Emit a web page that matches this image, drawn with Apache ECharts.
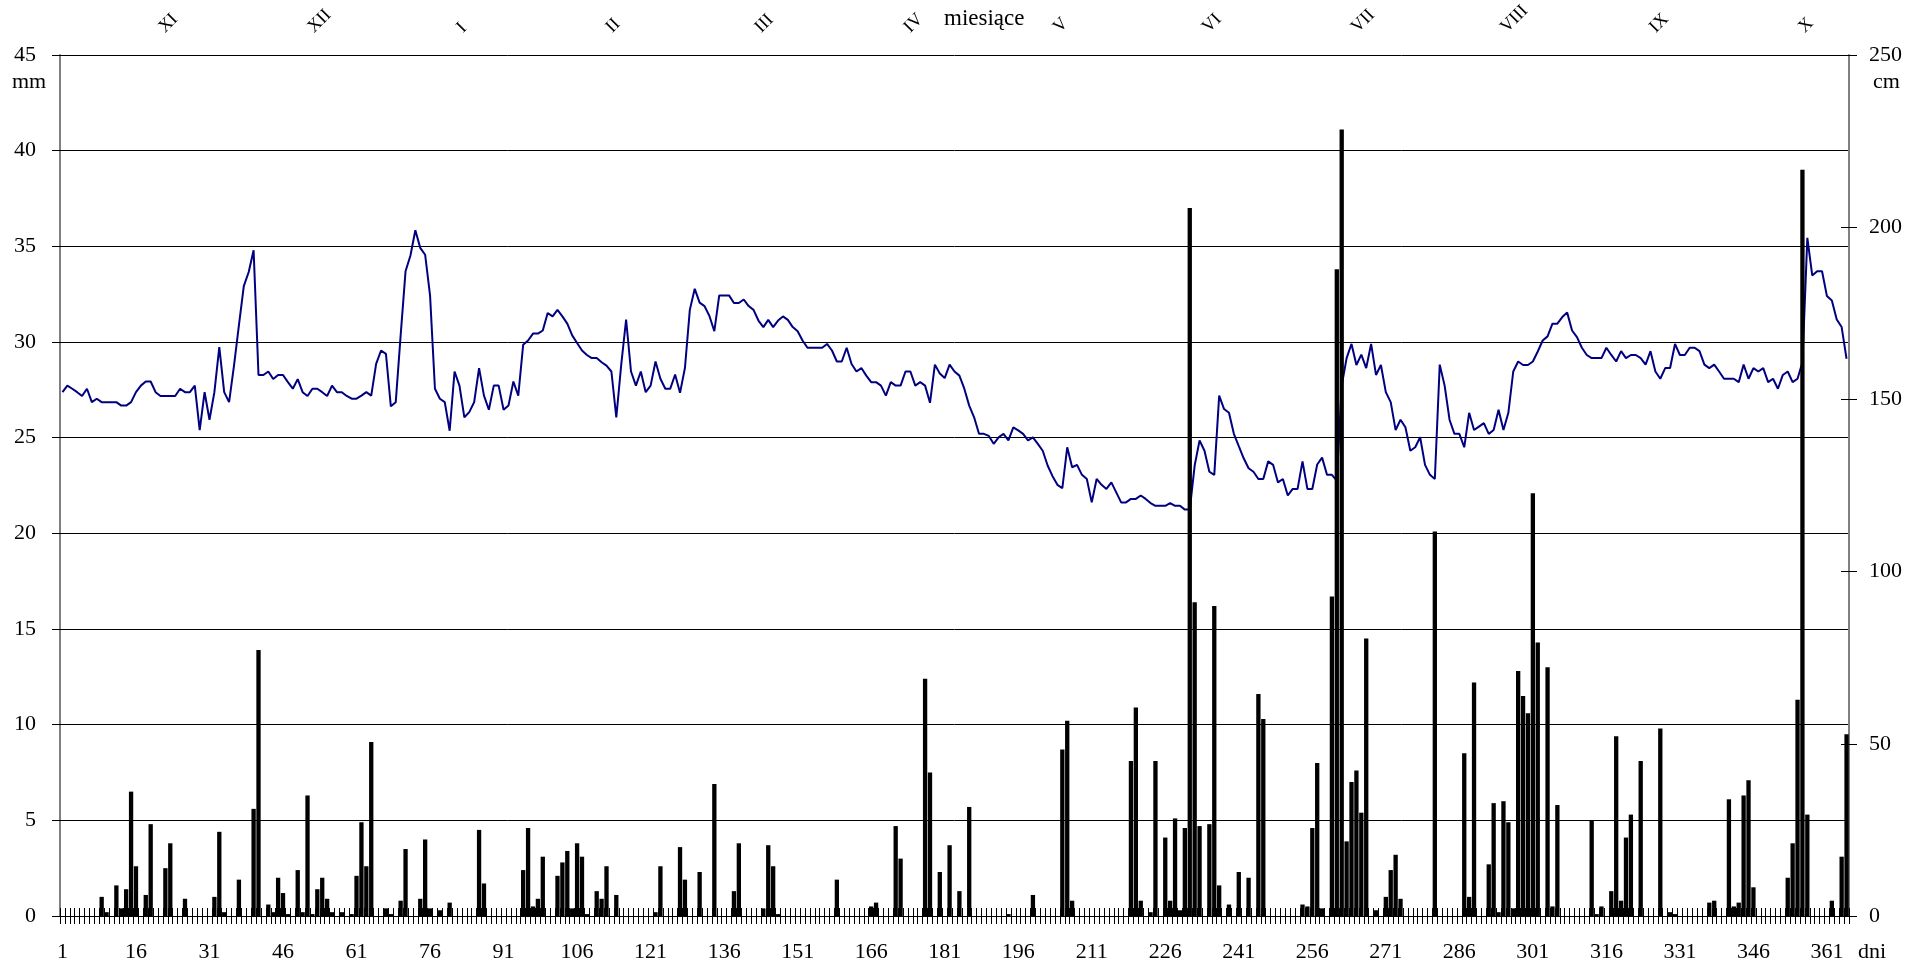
<!DOCTYPE html>
<html>
<head>
<meta charset="utf-8">
<script src="https://cdn.jsdelivr.net/npm/echarts@6/dist/echarts.min.js"></script>
<style>
  html, body { margin: 0; padding: 0; background: #ffffff; }
  #chart { width: 1917px; height: 969px; }
</style>
</head>
<body>
<div id="chart"></div>
<script>
// Months of the hydrological year (November .. October)
const months = ['XI', 'XII', 'I', 'II', 'III', 'IV', 'V', 'VI', 'VII', 'VIII', 'IX', 'X'];

const dayCount = 365;

// Days with precipitation and the daily total in mm (all other days: 0)
const rainDays = [
  9, 10, 12, 13, 14, 15, 16, 18, 19, 22, 23, 26, 32, 33, 34, 37, 40, 41, 43, 44,
  45, 46, 47, 49, 50, 51, 52, 53, 54, 55, 56, 58, 60, 61, 62, 63, 64, 67, 68, 70,
  71, 74, 75, 76, 78, 80, 86, 87, 95, 96, 97, 98, 99, 102, 103, 104, 105, 106, 107, 108,
  110, 111, 112, 114, 122, 123, 127, 128, 131, 134, 138, 139, 144, 145, 146, 147, 159, 166, 167, 171,
  172, 177, 178, 180, 182, 184, 186, 194, 199, 205, 206, 207, 219, 220, 221, 223, 224, 226, 227, 228,
  229, 230, 231, 232, 233, 235, 236, 237, 239, 241, 243, 245, 246, 254, 255, 256, 257, 258, 260, 261,
  262, 263, 264, 265, 266, 267, 269, 271, 272, 273, 274, 281, 287, 288, 289, 292, 293, 294, 295, 296,
  297, 298, 299, 300, 301, 302, 304, 305, 306, 313, 314, 315, 317, 318, 319, 320, 321, 323, 327, 329,
  330, 337, 338, 341, 342, 343, 344, 345, 346, 353, 354, 355, 356, 357, 362, 364, 365
];
const rainMm = [
  1.0, 0.2, 1.6, 0.4, 1.4, 6.5, 2.6, 1.1, 4.8, 2.5, 3.8, 0.9, 1.0, 4.4, 0.2, 1.9, 5.6, 13.9, 0.6, 0.2,
  2.0, 1.2, 0.1, 2.4, 0.2, 6.3, 0.1, 1.4, 2.0, 0.9, 0.2, 0.2, 0.1, 2.1, 4.9, 2.6, 9.1, 0.4, 0.1, 0.8,
  3.5, 0.9, 4.0, 0.4, 0.3, 0.7, 4.5, 1.7, 2.4, 4.6, 0.5, 0.9, 3.1, 2.1, 2.8, 3.4, 0.4, 3.8, 3.1, 0.1,
  1.3, 0.9, 2.6, 1.1, 0.2, 2.6, 3.6, 1.9, 2.3, 6.9, 1.3, 3.8, 0.4, 3.7, 2.6, 0.1, 1.9, 0.5, 0.7, 4.7,
  3.0, 12.4, 7.5, 2.3, 3.7, 1.3, 5.7, 0.1, 1.1, 8.7, 10.2, 0.8, 8.1, 10.9, 0.8, 0.2, 8.1, 4.1, 0.8, 5.1,
  0.3, 4.6, 37.0, 16.4, 4.7, 4.8, 16.2, 1.6, 0.6, 2.3, 2.0, 11.6, 10.3, 0.6, 0.5, 4.6, 8.0, 0.4, 16.7, 33.8,
  41.1, 3.9, 7.0, 7.6, 5.4, 14.5, 0.3, 1.0, 2.4, 3.2, 0.9, 20.1, 8.5, 1.0, 12.2, 2.7, 5.9, 0.2, 6.0, 4.9,
  0.4, 12.8, 11.5, 10.6, 22.1, 14.3, 13.0, 0.5, 5.8, 5.0, 0.1, 0.5, 1.3, 9.4, 0.8, 4.1, 5.3, 8.1, 9.8, 0.2,
  0.1, 0.7, 0.8, 6.1, 0.5, 0.7, 6.3, 7.1, 1.5, 2.0, 3.8, 11.3, 39.0, 5.3, 0.8, 3.1, 9.5
];

// Daily water level in cm (right axis), days 1..365
const waterLevelCm = [
  152.1, 154.0, 153.1, 152.1, 151.0, 153.1, 149.2, 150.2, 149.2, 149.2, 149.2, 149.2, 148.2, 148.2, 149.2,
  152.1, 154.0, 155.2, 155.2, 152.1, 151.0, 151.0, 151.0, 151.0, 153.1, 152.1, 152.1, 154.0, 141.1, 152.1,
  144.1, 152.1, 165.2, 152.1, 149.2, 159.8, 171.5, 182.9, 187.0, 193.3, 157.1, 157.1, 158.1, 155.9, 157.1,
  157.1, 155.0, 153.1, 155.9, 152.1, 151.0, 153.1, 153.1, 152.1, 151.0, 154.0, 152.1, 152.1, 151.0, 150.2,
  150.2, 151.1, 152.1, 151.1, 160.3, 164.2, 163.2, 148.0, 149.2, 168.6, 187.2, 191.8, 199.1, 194.0, 192.0,
  180.2, 153.1, 150.2, 149.2, 140.9, 158.1, 154.0, 144.8, 146.3, 149.2, 159.1, 151.1, 147.0, 154.0, 154.0,
  147.0, 148.2, 155.2, 151.1, 165.9, 167.1, 169.1, 169.1, 170.0, 175.1, 174.1, 176.0, 174.1, 172.0, 168.6,
  166.4, 164.2, 162.9, 162.0, 162.0, 160.8, 159.8, 158.1, 144.8, 160.0, 173.2, 158.1, 154.0, 158.1, 152.1,
  154.0, 161.0, 156.0, 153.1, 153.1, 157.2, 151.9, 159.1, 176.0, 182.1, 178.1, 177.1, 174.2, 169.8, 180.2,
  180.2, 180.2, 178.0, 178.0, 179.0, 177.1, 176.0, 172.9, 171.0, 173.1, 171.0, 172.9, 174.1, 173.1, 171.0,
  169.8, 167.1, 165.0, 165.0, 165.0, 165.0, 166.1, 164.2, 161.0, 161.0, 165.0, 160.3, 158.1, 159.1, 156.9,
  155.0, 155.0, 154.0, 151.1, 155.0, 154.0, 154.0, 158.1, 158.1, 154.0, 155.0, 154.0, 149.0, 160.1, 157.5,
  156.2, 160.1, 158.1, 156.9, 153.1, 148.2, 144.8, 140.0, 140.0, 139.4, 137.1, 139.0, 140.0, 138.1, 141.9,
  141.0, 140.0, 138.1, 139.0, 137.1, 135.1, 130.8, 127.7, 125.2, 124.2, 136.1, 130.3, 131.0, 128.1, 126.9,
  120.1, 126.9, 125.2, 124.0, 125.9, 123.0, 120.1, 120.1, 121.1, 121.1, 122.1, 121.1, 119.9, 119.1, 119.1,
  119.1, 119.9, 119.1, 119.1, 118.0, 118.0, 130.8, 138.1, 135.1, 129.0, 128.1, 151.1, 147.2, 146.1, 140.0,
  136.4, 132.9, 130.0, 129.0, 126.9, 126.9, 132.0, 131.0, 125.9, 126.9, 122.1, 124.0, 124.0, 132.0, 124.0,
  124.0, 131.1, 133.1, 128.1, 128.1, 126.4, 154.0, 162.0, 166.1, 160.0, 163.0, 159.1, 166.1, 157.1, 160.0,
  152.1, 149.2, 141.1, 144.1, 141.9, 135.1, 136.1, 139.0, 131.0, 128.1, 126.9, 160.1, 154.0, 144.1, 140.0,
  140.0, 136.1, 146.1, 141.1, 142.1, 143.1, 140.0, 141.1, 147.0, 141.1, 146.1, 158.1, 161.0, 160.0, 160.0,
  161.0, 163.9, 167.1, 168.3, 172.0, 172.0, 173.9, 175.2, 170.0, 168.1, 165.0, 162.9, 162.0, 162.0, 162.0,
  165.0, 162.9, 161.0, 164.0, 162.0, 162.9, 162.9, 162.0, 160.1, 164.0, 158.1, 156.0, 159.1, 159.1, 166.1,
  162.9, 162.9, 165.0, 165.0, 164.0, 160.1, 159.1, 160.1, 158.1, 156.0, 156.0, 156.0, 155.0, 160.1, 156.0,
  159.1, 158.1, 159.1, 155.0, 156.0, 153.1, 157.1, 158.1, 155.0, 156.0, 160.8, 196.9, 186.0, 187.2, 187.2,
  180.0, 178.7, 173.2, 171.0, 161.8
];

// Axis ranges
const mmMax = 45, mmStep = 5;
const cmMax = 250, cmStep = 50;

// Day numbers used as category labels
const days = Array.from({ length: dayCount }, (_, i) => String(i + 1));
const precip = new Array(dayCount).fill(0);
rainDays.forEach((d, i) => { precip[d - 1] = rainMm[i]; });

const serif = 'Liberation Serif, Times New Roman, serif';
const txt = { fontFamily: serif, fontSize: 22, color: '#000' };

const chart = echarts.init(document.getElementById('chart'), null, { renderer: 'canvas' });

chart.setOption({
  animation: false,
  backgroundColor: '#ffffff',
  grid: [
    // main plot
    { left: 60, right: 68, top: 55, bottom: 53, outerBoundsMode: 'none', containLabel: false },
    // carrier for the month labels above the plot
    { left: 87, right: 41, top: 55, bottom: 53, outerBoundsMode: 'none', containLabel: false }
  ],
  xAxis: [
    {
      type: 'category', data: days, position: 'bottom', boundaryGap: true,
      axisLine: { show: true, lineStyle: { color: '#000', width: 1 } },
      axisTick: { show: true, interval: 0, length: 8, inside: false, lineStyle: { color: '#000', width: 1 } },
      axisLabel: Object.assign({ interval: 14, margin: 25 }, txt),
      splitLine: { show: false }
    },
    {
      // second copy of the day axis: inner half of the crossing tick marks
      type: 'category', data: days, position: 'bottom', boundaryGap: true,
      axisLine: { show: false },
      axisTick: { show: true, interval: 0, length: 8, inside: true, lineStyle: { color: '#000', width: 1 } },
      axisLabel: { show: false },
      splitLine: { show: false }
    },
    {
      type: 'category', data: months, position: 'top', boundaryGap: true, gridIndex: 1,
      axisLine: { show: false }, axisTick: { show: false }, splitLine: { show: false },
      axisLabel: { fontFamily: serif, fontSize: 18, color: '#000', rotate: 45, margin: 25 }
    }
  ],
  yAxis: [
    {
      type: 'value', position: 'left', min: 0, max: mmMax, interval: mmStep,
      axisLine: { show: true, lineStyle: { color: '#808080', width: 2 } },
      axisTick: { show: true, length: 8, inside: false, lineStyle: { color: '#000' } },
      axisLabel: Object.assign({ margin: 24 }, txt),
      splitLine: { show: true, lineStyle: { color: '#000', width: 1 } }
    },
    {
      type: 'value', position: 'right', min: 0, max: cmMax, interval: cmStep,
      axisLine: { show: true, lineStyle: { color: '#808080', width: 2 } },
      axisTick: { show: true, length: 8, inside: false, lineStyle: { color: '#000' } },
      axisLabel: Object.assign({ margin: 20 }, txt),
      splitLine: { show: false }
    },
    {
      type: 'value', position: 'left', min: 0, max: mmMax, interval: mmStep,
      axisLine: { show: false },
      axisTick: { show: true, length: 8, inside: true, lineStyle: { color: '#000' } },
      axisLabel: { show: false }, splitLine: { show: false }
    },
    {
      type: 'value', position: 'right', min: 0, max: cmMax, interval: cmStep,
      axisLine: { show: false },
      axisTick: { show: true, length: 8, inside: true, lineStyle: { color: '#000' } },
      axisLabel: { show: false }, splitLine: { show: false }
    },
    {
      type: 'value', gridIndex: 1, show: false, min: 0, max: 1
    }
  ],
  graphic: [
    { type: 'text', left: 12, top: 71, style: { text: 'mm', font: '22px ' + serif, fill: '#000' } },
    { type: 'text', left: 1873, top: 71, style: { text: 'cm', font: '22px ' + serif, fill: '#000' } },
    { type: 'text', left: 1858, top: 941, style: { text: 'dni', font: '22px ' + serif, fill: '#000' } },
    { type: 'text', left: 944, top: 7, style: { text: 'miesiące', font: '23px ' + serif, fill: '#000' } }
  ],
  series: [
    {
      name: 'opad', type: 'bar', xAxisIndex: 0, yAxisIndex: 0, data: precip,
      barCategoryGap: '12%', itemStyle: { color: '#000' }, z: 3
    },
    {
      name: 'stan wody', type: 'line', xAxisIndex: 1, yAxisIndex: 1, data: waterLevelCm,
      showSymbol: false, symbol: 'none',
      lineStyle: { color: '#000080', width: 2 }, z: 2
    }
  ]
});
</script>
</body>
</html>
